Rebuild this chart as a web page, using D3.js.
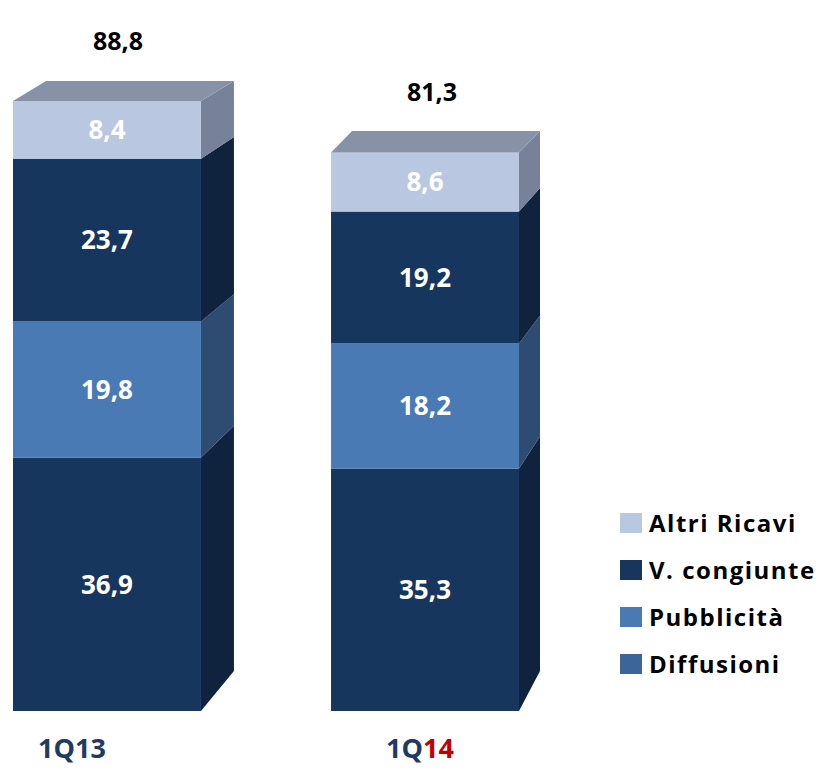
<!DOCTYPE html>
<html>
<head>
<meta charset="utf-8">
<script src="https://cdn.jsdelivr.net/npm/d3@7"></script>
<style>
  html, body { margin: 0; padding: 0; background: #fff; }
  svg { display: block; font-family: "Open Sans", Lato, sans-serif; }
</style>
</head>
<body>
<svg id="chart" width="825" height="769"></svg>
<script>
// Quarterly revenue breakdown (stacked 3D columns)
const categories = ["1Q13", "1Q14"];
const series = ["Diffusioni", "Pubblicità", "V. congiunte", "Altri Ricavi"];
const diffusioni = [36.9, 35.3];
const pubblicita = [19.8, 18.2];
const vCongiunte = [23.7, 19.2];
const altriRicavi = [8.4, 8.6];
const totals = [88.8, 81.3];
const legendOrder = ["Altri Ricavi", "V. congiunte", "Pubblicità", "Diffusioni"];

// Face colours per series: front, side, top
const palette = {
  "Diffusioni":   { front: "#17365d", side: "#10233e", top: "#2a4670", legend: "#3c6599" },
  "Pubblicità":   { front: "#4a7ab4", side: "#2e4c72", top: "#6a8fc0", legend: "#4a7ab4" },
  "V. congiunte": { front: "#17365d", side: "#10233e", top: "#2a4670", legend: "#17365d" },
  "Altri Ricavi": { front: "#b9c7e0", side: "#78819a", top: "#8892a7", legend: "#b9c7e0" }
};

const values = { "Diffusioni": diffusioni, "Pubblicità": pubblicita, "V. congiunte": vCongiunte, "Altri Ricavi": altriRicavi };

const rows = categories.map((c, i) => {
  const r = { category: c };
  series.forEach(s => r[s] = values[s][i]);
  return r;
});
const stacked = d3.stack().keys(series)(rows);

const svg = d3.select("#chart");

const x = d3.scaleBand().domain(categories).range([13, 519]).paddingInner(0.409).paddingOuter(0);
const y = d3.scaleLinear().domain([0, 100]).range([711, 24]);

// oblique depth of each column and vertical offset that grows toward the base
const sideDepth = { "1Q13": 33, "1Q14": 21 };
const lift = yy => -(19 + 0.0332 * (yy - 76));

const fmt = v => d3.format(".1f")(v).replace(".", ",");

const g = svg.append("g");

stacked.forEach(layer => {
  const s = layer.key;
  const col = palette[s];
  layer.forEach((d, i) => {
    const cat = categories[i];
    const x0 = x(cat), x1 = x0 + x.bandwidth();
    const yb = y(d[0]), yt = y(d[1]);
    const dx = sideDepth[cat];
    // side face
    g.append("path")
      .attr("d", `M${x1},${yt}L${x1 + dx},${yt + lift(yt)}L${x1 + dx},${yb + lift(yb)}L${x1},${yb}Z`)
      .attr("fill", col.side);
    // front face
    g.append("rect")
      .attr("x", x0).attr("y", yt)
      .attr("width", x.bandwidth()).attr("height", yb - yt)
      .attr("fill", col.front);
    // top face on the uppermost segment
    if (s === series[series.length - 1]) {
      g.append("path")
        .attr("d", `M${x0},${yt}L${x0 + dx},${yt + lift(yt)}L${x1 + dx},${yt + lift(yt)}L${x1},${yt}Z`)
        .attr("fill", col.top);
    }
    // segment value
    g.append("text")
      .attr("x", (x0 + x1) / 2)
      .attr("y", (yt + yb) / 2)
      .attr("dy", "0.36em")
      .attr("text-anchor", "middle")
      .attr("fill", "#fff")
      .attr("font-weight", 700)
      .attr("font-size", 26)
      .text(fmt(d.data[s]));
  });
});

// totals above each column
categories.forEach((cat, i) => {
  const x0 = x(cat);
  const yt = y(totals[i]);
  svg.append("text")
    .attr("x", x0 + x.bandwidth() / 2 + sideDepth[cat] / 3)
    .attr("y", yt - 60)
    .attr("dy", "0.36em")
    .attr("text-anchor", "middle")
    .attr("fill", "#000")
    .attr("font-weight", 700)
    .attr("font-size", 25)
    .text(fmt(totals[i]));
});

// category labels: year digits of the latest quarter in red
const catShift = { "1Q13": -35, "1Q14": -5 };
categories.forEach((cat, i) => {
  const t = svg.append("text")
    .attr("x", x(cat) + x.bandwidth() / 2 + catShift[cat])
    .attr("y", 758)
    .attr("text-anchor", "middle")
    .attr("font-weight", 700)
    .attr("font-size", 27)
    .attr("fill", "#1f3b63");
  if (i === categories.length - 1) {
    t.append("tspan").text(cat.slice(0, 2));
    t.append("tspan").attr("fill", "#c00000").text(cat.slice(2));
  } else {
    t.text(cat);
  }
});

// legend
const legend = svg.append("g").attr("transform", "translate(620,523)");
legendOrder.forEach((s, i) => {
  const row = legend.append("g").attr("transform", `translate(0,${i * 47})`);
  row.append("rect")
    .attr("x", 0).attr("y", -10)
    .attr("width", 22).attr("height", 20)
    .attr("fill", palette[s].legend);
  row.append("text")
    .attr("x", 29).attr("y", 0)
    .attr("dy", "0.36em")
    .attr("font-weight", 700)
    .attr("font-size", 24)
    .attr("letter-spacing", 1.5)
    .attr("fill", "#000")
    .text(s);
});
</script>
</body>
</html>
